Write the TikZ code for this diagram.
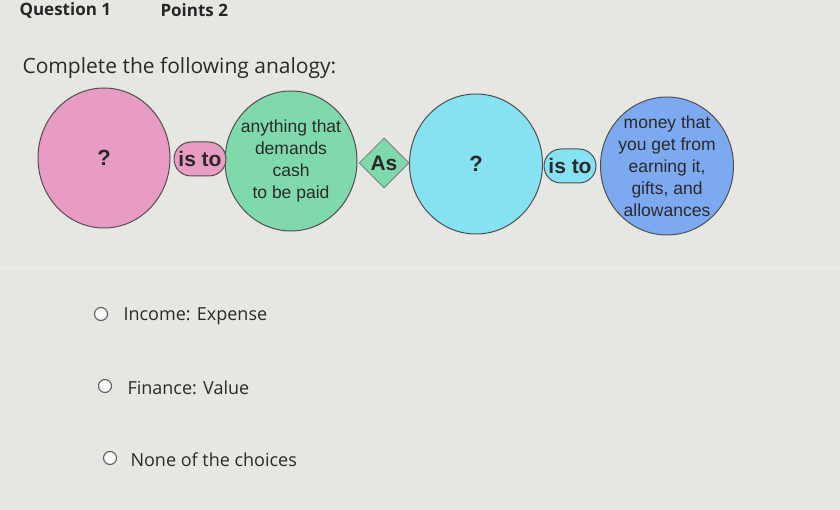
\documentclass[tikz,border=0pt]{standalone}
\usepackage{fontspec}
\setmainfont{Open Sans}
\newfontfamily\arial{Liberation Sans}
\usetikzlibrary{shapes.geometric,shapes.misc}
\definecolor{bg}{HTML}{E6E6E3}
\definecolor{pinkc}{HTML}{E99CC3}
\definecolor{greenc}{HTML}{80D9AC}
\definecolor{cyanc}{HTML}{86E2F0}
\definecolor{bluec}{HTML}{7DA9F0}
\definecolor{edgec}{HTML}{505050}
\definecolor{txt}{HTML}{2A2A2A}
\tikzset{
  bubble/.style={ellipse, draw=edgec, line width=1pt, minimum width=132pt, minimum height=140pt, inner sep=-20pt, align=center, text=txt, font=\arial\fontsize{17.5}{22}\selectfont},
  link/.style={rounded rectangle, draw=edgec, line width=1pt, minimum width=56pt, minimum height=34pt, inner sep=2pt, text=txt, font=\arial\bfseries\fontsize{21}{22}\selectfont},
  asbox/.style={diamond, draw=edgec!70, line width=1pt, fill=greenc, minimum width=50pt, minimum height=50pt, inner sep=0pt, text=txt, font=\arial\bfseries\fontsize{21}{22}\selectfont},
  radio/.style={circle, draw=gray!80!black, line width=1.2pt, fill=white!90!bg, minimum size=13pt, inner sep=0pt},
  opt/.style={anchor=west, text=txt, font=\fontsize{18}{22}\selectfont},
  head/.style={anchor=west, text=black!85, font=\bfseries\fontsize{17}{20}\selectfont}
}
\begin{document}
\begin{tikzpicture}[x=1pt,y=-1pt]
\fill[bg] (0,0) rectangle (840,510);
\useasboundingbox (0,0) rectangle (840,510);
\draw[white!35!bg, line width=1pt] (0,268) -- (840,268);
\node[head] (q) at (16,10) {Question 1};
\node[head] (p) at (157,10) {Points 2};
\node[anchor=west, text=txt, font=\fontsize{21}{24}\selectfont] (c) at (19,68) {Complete the following analogy:};
\node[bubble, fill=pinkc] (a) at (104,158) {\fontsize{22}{22}\selectfont\bfseries ?};
\node[bubble, fill=greenc] (b) at (291,161) {anything that\\demands\\cash\\to be paid};
\node[bubble, fill=cyanc, minimum width=133pt] (cc) at (476,164) {\fontsize{22}{22}\selectfont\bfseries ?};
\node[bubble, fill=bluec, minimum width=133pt, minimum height=138pt] (d) at (667,166) {money that\\you get from\\earning it,\\gifts, and\\allowances};
\node[link, fill=pinkc] (l1) at (200,159) {is to};
\node[asbox] (as) at (384,163) {As};
\node[link, fill=cyanc] (l2) at (570,166) {is to};
\node[radio] (r1) at (101,314) {};
\node[opt] (o1) at (120,316) {Income: Expense};
\node[radio] (r2) at (105,386) {};
\node[opt] (o2) at (124,388) {Finance: Value};
\node[radio] (r3) at (110,458) {};
\node[opt] (o3) at (127,460) {None of the choices};
\end{tikzpicture}
\end{document}
